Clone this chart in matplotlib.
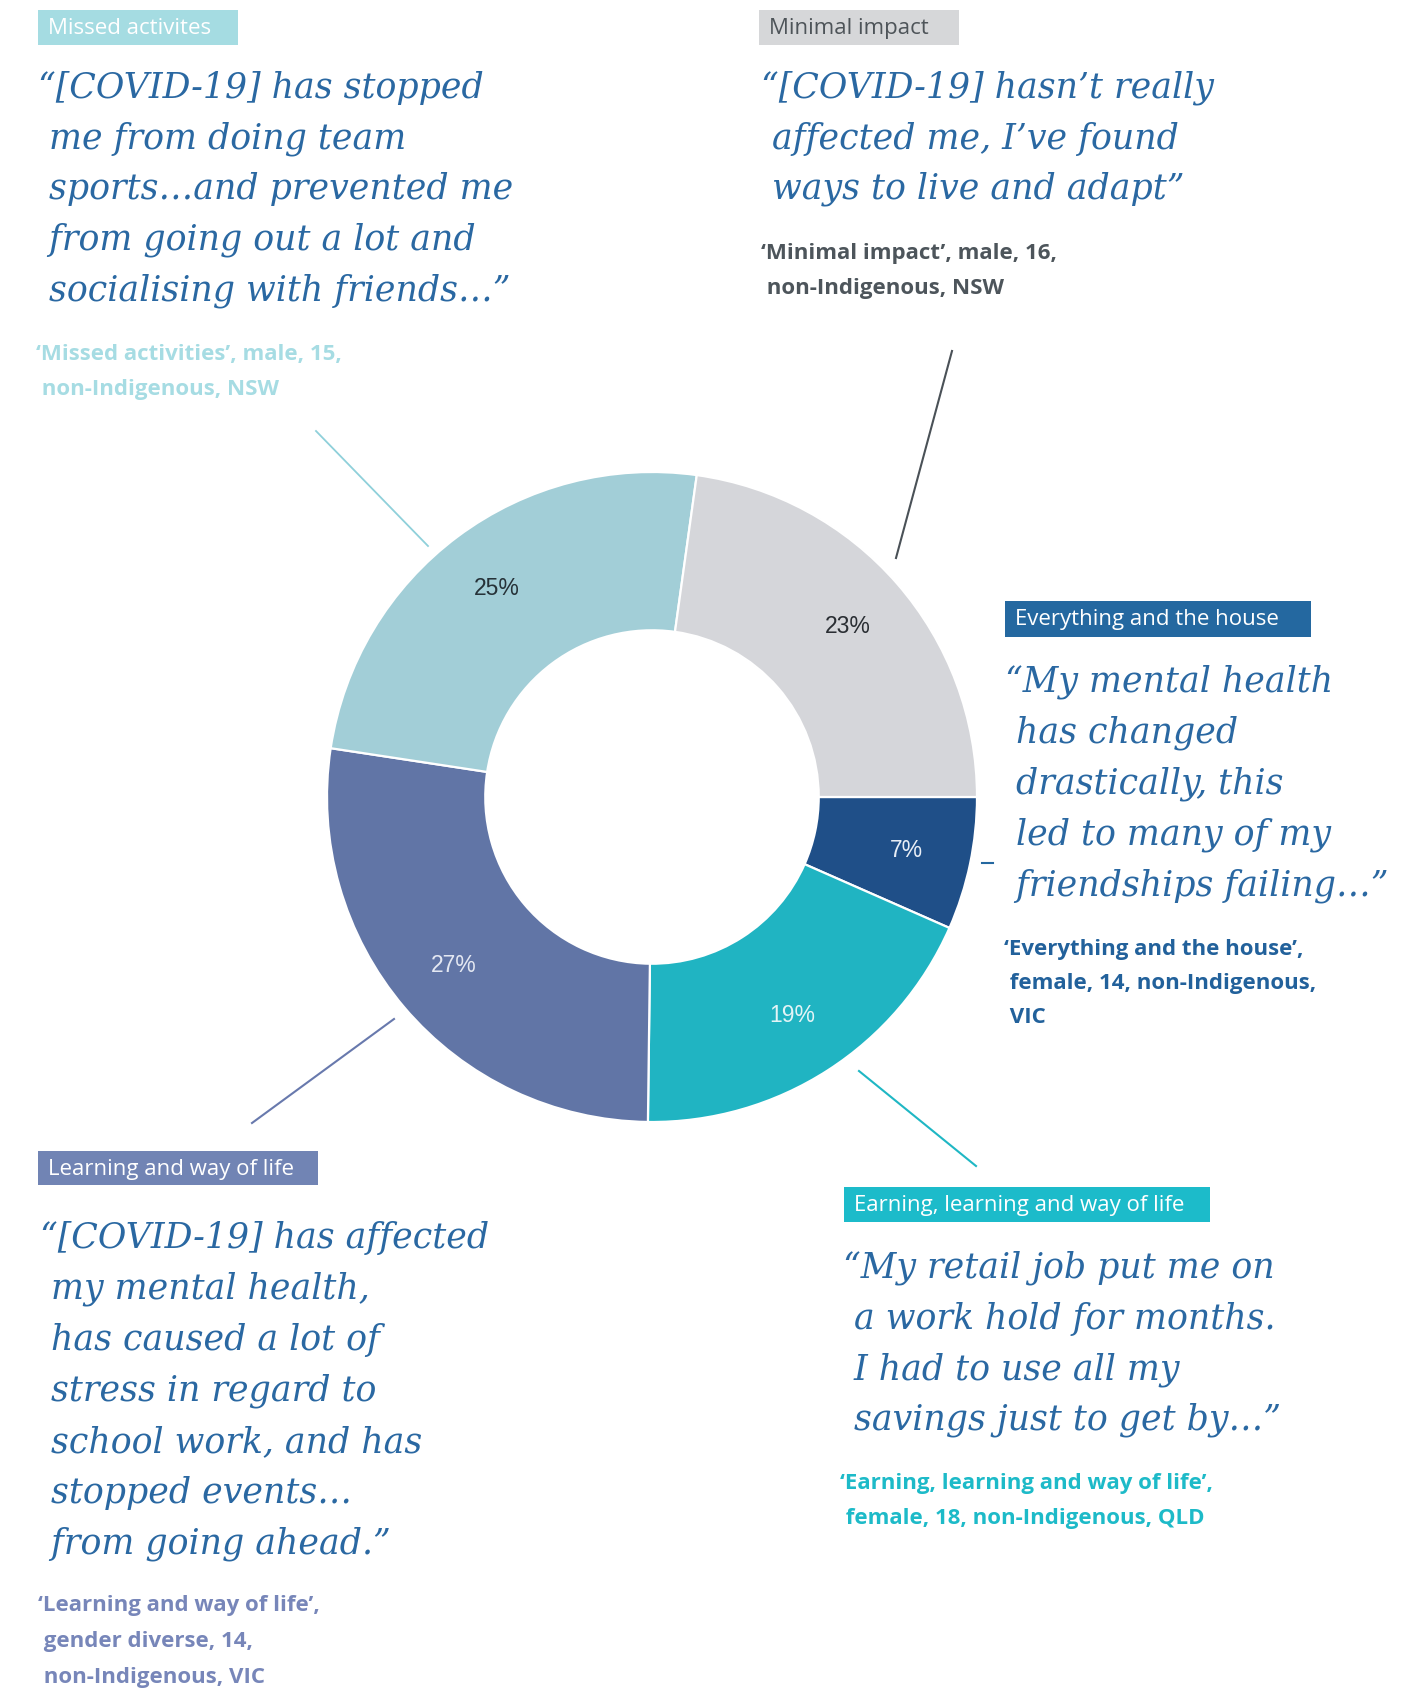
import numpy as np
import matplotlib
matplotlib.use("Agg")
import matplotlib.pyplot as plt
from matplotlib.patches import Rectangle

# donut data (clockwise from 3 o'clock), shares
categories = ["Everything and the house", "Earning, learning and way of life",
              "Learning and way of life", "Missed activites", "Minimal impact"]
values = [6.6, 18.6, 27.2, 24.8, 22.8]
pct_labels = ["7%", "19%", "27%", "25%", "23%"]
wedge_colors = ["#1F4F88", "#20B4C2", "#6175A6", "#A2CED7", "#D5D6DA"]
pct_colors = ["#E8EEF6", "#E3F4F6", "#E4E8F2", "#263238", "#2A2E33"]

# quotes
quote_missed = ["\u201c[COVID-19] has stopped", " me from doing team", " sports\u2026and prevented me",
                " from going out a lot and", " socialising with friends\u2026\u201d"]
quote_minimal = ["\u201c[COVID-19] hasn\u2019t really", " affected me, I\u2019ve found", " ways to live and adapt\u201d"]
quote_house = ["\u201cMy mental health", " has changed", " drastically, this", " led to many of my",
               " friendships failing\u2026\u201d"]
quote_learning = ["\u201c[COVID-19] has affected", " my mental health,", " has caused a lot of",
                  " stress in regard to", " school work, and has", " stopped events\u2026",
                  " from going ahead.\u201d"]
quote_earning = ["\u201cMy retail job put me on", " a work hold for months.", " I had to use all my",
                 " savings just to get by\u2026\u201d"]

attr_missed = ["\u2018Missed activities\u2019, male, 15,", " non-Indigenous, NSW"]
attr_minimal = ["\u2018Minimal impact\u2019, male, 16,", " non-Indigenous, NSW"]
attr_house = ["\u2018Everything and the house\u2019,", " female, 14, non-Indigenous,", " VIC"]
attr_learning = ["\u2018Learning and way of life\u2019,", " gender diverse, 14,", " non-Indigenous, VIC"]
attr_earning = ["\u2018Earning, learning and way of life\u2019,", " female, 18, non-Indigenous, QLD"]

W, H = 1418, 1689
fig = plt.figure(figsize=(W / 100, H / 100), dpi=100)
ax = fig.add_axes([0, 0, 1, 1])

cx, cy, R = 652, 797, 325
wedges, _ = ax.pie(values, colors=wedge_colors, startangle=0, counterclock=True,
                   center=(cx, cy), radius=R,
                   wedgeprops=dict(width=R * 0.487, edgecolor="white", linewidth=1.6))
for w, lab, c in zip(wedges, pct_labels, pct_colors):
    mid = np.deg2rad((w.theta1 + w.theta2) / 2)
    ax.text(cx + 0.8 * R * np.cos(mid), cy + 0.8 * R * np.sin(mid), lab,
            ha="center", va="center", fontsize=16.5, color=c, family="Liberation Sans")

ax.set_xlim(0, W)
ax.set_ylim(H, 0)
ax.set_aspect("equal")
ax.axis("off")

quote_col = "#2A68A2"
serif = "DejaVu Serif"
sans = "Open Sans"


def tag(x0, y0, x1, y1, text, bg, fg):
    ax.add_patch(Rectangle((x0, y0), x1 - x0, y1 - y0, facecolor=bg, edgecolor="none"))
    ax.text(x0 + 10, (y0 + y1) / 2 + 1, text, ha="left", va="center",
            fontsize=16, color=fg, family=sans)


def lines(x, y0, step, rows, **kw):
    for i, r in enumerate(rows):
        ax.text(x, y0 + i * step, r, ha="left", va="center", **kw)


tag(38, 10, 238, 45, "Missed activites", "#A5DCE2", "white")
tag(759, 10, 959, 45, "Minimal impact", "#D6D7D9", "#4E5459")
tag(1005, 601, 1311, 637, "Everything and the house", "#2468A0", "white")
tag(38, 1151, 318, 1185, "Learning and way of life", "#7184B4", "white")
tag(844, 1187, 1210, 1222, "Earning, learning and way of life", "#1CBBCA", "white")

qkw = dict(fontsize=25, style="italic", color=quote_col, family=serif)
lines(38, 88, 50.6, quote_missed, **qkw)
lines(761, 88, 50.6, quote_minimal, **qkw)
lines(1005, 682, 51, quote_house, **qkw)
lines(40, 1238, 51, quote_learning, **qkw)
lines(843, 1268, 50.7, quote_earning, **qkw)

akw = dict(fontsize=16, fontweight="bold", family=sans)
lines(36, 354, 35.5, attr_missed, color="#A6DCE3", **akw)
lines(761, 253, 35, attr_minimal, color="#4D555B", **akw)
lines(1004, 949, 34, attr_house, color="#22619B", **akw)
lines(38, 1606, 35.5, attr_learning, color="#7786B9", **akw)
lines(840, 1484, 34.5, attr_earning, color="#1DBAC8", **akw)

# leader lines
ax.plot([316, 428], [431, 546], color="#8FD0DA", lw=1.3)
ax.plot([952, 896], [351, 558], color="#4A5157", lw=1.5)
ax.plot([982, 993], [863, 863], color="#2468A0", lw=1.5)
ax.plot([252, 394], [1123, 1019], color="#6879AD", lw=1.5)
ax.plot([859, 976], [1071, 1166], color="#1FB7C4", lw=1.5)

fig.savefig("out.png", dpi=100, facecolor="white")
